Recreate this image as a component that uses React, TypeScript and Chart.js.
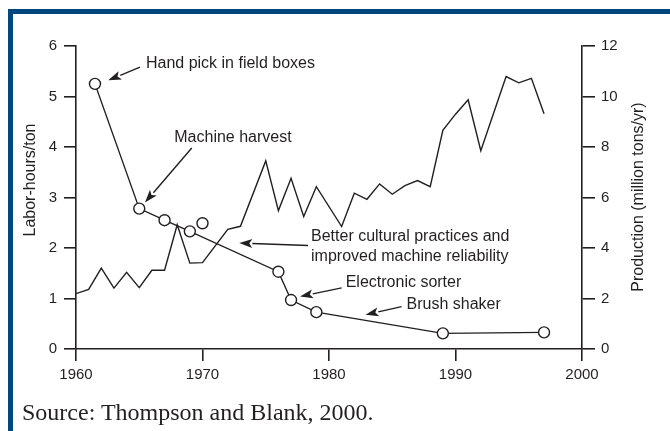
import React, { useEffect, useRef } from "react";
import { Chart, registerables } from "chart.js";

Chart.register(...registerables);

// ---- Data ----
const laborYears = [1961.5, 1965, 1967, 1969, 1976, 1977, 1979, 1989, 1997];
const laborValues = [5.25, 2.78, 2.55, 2.33, 1.53, 0.97, 0.73, 0.31, 0.33];

const laborExtraYears = [1970];
const laborExtraValues = [2.49];

const productionYears = [
  1960, 1961, 1962, 1963, 1964, 1965, 1966, 1967, 1968, 1969, 1970, 1972, 1973,
  1975, 1976, 1977, 1978, 1979, 1981, 1982, 1983, 1984, 1985, 1986, 1987, 1988,
  1989, 1990, 1991, 1992, 1994, 1995, 1996, 1997,
];
const productionValues = [
  2.19, 2.36, 3.2, 2.41, 3.04, 2.43, 3.12, 3.12, 4.92, 3.4, 3.42, 4.74, 4.86,
  7.45, 5.48, 6.76, 5.25, 6.43, 4.85, 6.17, 5.93, 6.54, 6.13, 6.47, 6.67, 6.43,
  8.66, 9.3, 9.87, 7.85, 10.79, 10.54, 10.72, 9.32,
];

const xTickValues = [1960, 1970, 1980, 1990, 2000];
const leftTitle = "Labor-hours/ton";
const rightTitle = "Production (million tons/yr)";
const sourceText = "Source: Thompson and Blank, 2000.";

// annotation labels (anchored in data coordinates: year, labor-hours/ton)
const annotationTexts = [
  ["Hand pick in field boxes"],
  ["Machine harvest"],
  ["Better cultural practices and", "improved machine reliability"],
  ["Electronic sorter"],
  ["Brush shaker"],
];
const annotationTextAt = [
  [1965.53, 5.66],
  [1967.77, 4.18],
  [1978.58, 2.22],
  [1981.32, 1.31],
  [1986.13, 0.88],
];
const annotationArrowFrom = [
  [1965.06, 5.58],
  [1969.15, 3.98],
  [1978.34, 2.05],
  [1981.0, 1.21],
  [1985.74, 0.84],
];
const annotationArrowTo = [
  [1962.55, 5.32],
  [1965.45, 2.9],
  [1972.91, 2.1],
  [1977.71, 1.04],
  [1982.89, 0.68],
];

const INK = "#231f20";
const SANS = '"Liberation Sans", Arial, Helvetica, sans-serif';

const annotationPlugin = {
  id: "annotationsAndTitles",
  afterDatasetsDraw(chart: any) {
    const ctx = chart.ctx;
    const xs = chart.scales.x;
    const ys = chart.scales.y;
    ctx.save();
    ctx.fillStyle = INK;
    ctx.strokeStyle = INK;
    ctx.lineWidth = 1.4;
    ctx.font = `16px ${SANS}`;
    ctx.textBaseline = "middle";
    ctx.textAlign = "left";
    annotationTexts.forEach((lines, i) => {
      const tx = xs.getPixelForValue(annotationTextAt[i][0]);
      const ty = ys.getPixelForValue(annotationTextAt[i][1]);
      lines.forEach((ln, j) => ctx.fillText(ln, tx, ty + j * 19.5));
      const fx = xs.getPixelForValue(annotationArrowFrom[i][0]);
      const fy = ys.getPixelForValue(annotationArrowFrom[i][1]);
      const ex = xs.getPixelForValue(annotationArrowTo[i][0]);
      const ey = ys.getPixelForValue(annotationArrowTo[i][1]);
      const ang = Math.atan2(ey - fy, ex - fx);
      const headLen = 13;
      const headW = 4.5;
      const bx = ex - headLen * Math.cos(ang);
      const by = ey - headLen * Math.sin(ang);
      ctx.beginPath();
      ctx.moveTo(fx, fy);
      ctx.lineTo(bx, by);
      ctx.stroke();
      ctx.beginPath();
      ctx.moveTo(ex, ey);
      ctx.lineTo(bx + headW * Math.sin(ang), by - headW * Math.cos(ang));
      ctx.lineTo(bx + 3 * Math.cos(ang), by + 3 * Math.sin(ang));
      ctx.lineTo(bx - headW * Math.sin(ang), by + headW * Math.cos(ang));
      ctx.closePath();
      ctx.fill();
    });
    // axis titles (both read bottom-to-top)
    ctx.font = `16px ${SANS}`;
    ctx.textAlign = "center";
    ctx.save();
    ctx.translate(31, 180);
    ctx.rotate(-Math.PI / 2);
    ctx.fillText(leftTitle, 0, 0);
    ctx.restore();
    ctx.save();
    ctx.translate(639, 197);
    ctx.rotate(-Math.PI / 2);
    ctx.fillText(rightTitle, 0, 0);
    ctx.restore();
    ctx.restore();
  },
};

export default function App() {
  const canvasRef = useRef<HTMLCanvasElement | null>(null);

  useEffect(() => {
    const canvas = canvasRef.current;
    if (!canvas) return;
    const tickFont = { family: SANS, size: 15 };
    const gridCommon = {
      display: true,
      drawOnChartArea: false,
      drawTicks: true,
      color: INK,
      lineWidth: 1.6,
    };
    const chart = new Chart(canvas, {
      type: "line",
      data: {
        datasets: [
          {
            label: "Labor-hours/ton",
            data: laborYears.map((x, i) => ({ x, y: laborValues[i] })),
            xAxisID: "x",
            yAxisID: "y",
            borderColor: INK,
            borderWidth: 1.4,
            pointRadius: 5.5,
            pointBackgroundColor: "#ffffff",
            pointBorderColor: INK,
            pointBorderWidth: 1.4,
            tension: 0,
            fill: false,
          },
          {
            label: "Labor-hours/ton (1970)",
            data: laborExtraYears.map((x, i) => ({ x, y: laborExtraValues[i] })),
            xAxisID: "x",
            yAxisID: "y",
            showLine: false,
            borderColor: INK,
            pointRadius: 5.5,
            pointBackgroundColor: "#ffffff",
            pointBorderColor: INK,
            pointBorderWidth: 1.4,
          },
          {
            label: "Production",
            data: productionYears.map((x, i) => ({ x, y: productionValues[i] })),
            xAxisID: "x",
            yAxisID: "y1",
            borderColor: INK,
            borderWidth: 1.4,
            pointRadius: 0,
            tension: 0,
            fill: false,
          },
        ],
      },
      options: {
        animation: false,
        responsive: false,
        maintainAspectRatio: false,
        layout: { padding: { left: 0, right: 0, top: 46, bottom: 0 } },
        plugins: {
          legend: { display: false },
          tooltip: { enabled: false },
          title: { display: false },
        },
        scales: {
          x: {
            type: "linear",
            position: "bottom",
            min: 1960,
            max: 2000,
            afterBuildTicks: (s: any) => {
              s.ticks = xTickValues.map((v) => ({ value: v }));
            },
            afterFit: (s: any) => {
              s.height = 82;
              s.paddingLeft = 0;
              s.paddingRight = 0;
            },
            ticks: {
              color: INK,
              font: tickFont,
              padding: 5,
              maxRotation: 0,
              callback: (v: any) => String(v),
            },
            grid: { ...gridCommon, tickLength: 12 },
            border: { display: true, color: INK, width: 1.6 },
          },
          y: {
            type: "linear",
            position: "left",
            min: 0,
            max: 6,
            ticks: { stepSize: 1, color: INK, font: tickFont, padding: 7 },
            afterFit: (s: any) => {
              s.width = 76;
              s.paddingTop = 0;
              s.paddingBottom = 0;
            },
            grid: { ...gridCommon, tickLength: 12 },
            border: { display: true, color: INK, width: 1.6 },
          },
          y1: {
            type: "linear",
            position: "right",
            min: 0,
            max: 12,
            ticks: { stepSize: 2, color: INK, font: tickFont, padding: 6 },
            afterFit: (s: any) => {
              s.width = 88;
              s.paddingTop = 0;
              s.paddingBottom = 0;
            },
            grid: { ...gridCommon, tickLength: 13 },
            border: { display: true, color: INK, width: 1.6 },
          },
        },
      },
      plugins: [annotationPlugin],
    } as any);
    return () => chart.destroy();
  }, []);

  return (
    <div
      style={{
        position: "fixed",
        left: 0,
        top: 0,
        width: 670,
        height: 431,
        background: "#ffffff",
        overflow: "hidden",
      }}
    >
      <div style={{ position: "absolute", left: 8, top: 9, width: 662, height: 5, background: "#00467f" }} />
      <div style={{ position: "absolute", left: 8, top: 9, width: 5, height: 422, background: "#00467f" }} />
      <canvas
        ref={canvasRef}
        width={670}
        height={431}
        style={{ position: "absolute", left: 0, top: 0, width: 670, height: 431 }}
      />
      <div
        style={{
          position: "absolute",
          left: 22,
          top: 398,
          font: '24px "Liberation Serif", "Times New Roman", serif',
          lineHeight: "28px",
          color: INK,
          whiteSpace: "nowrap",
        }}
      >
        {sourceText}
      </div>
    </div>
  );
}
